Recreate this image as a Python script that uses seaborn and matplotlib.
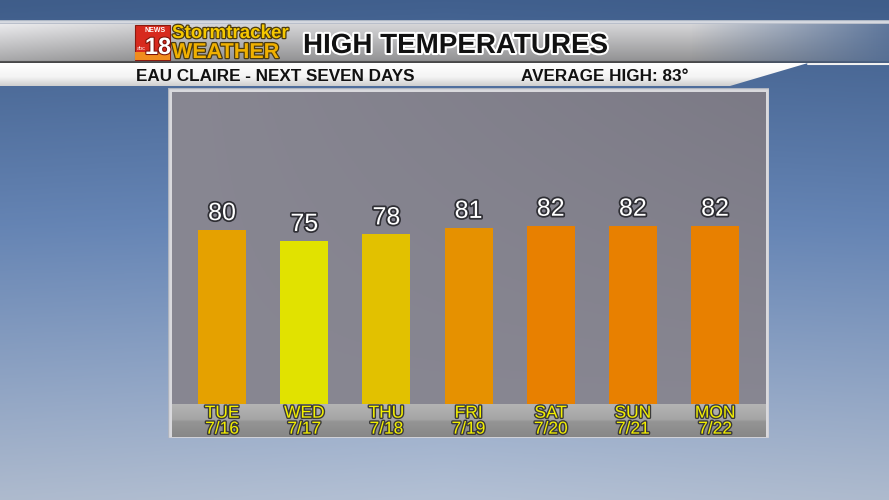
import numpy as np
import matplotlib.pyplot as plt
import matplotlib.patheffects as pe
from matplotlib.colors import LinearSegmentedColormap, to_rgb
from matplotlib.patches import Polygon, Rectangle
import seaborn as sns

# chart data
days = ["TUE", "WED", "THU", "FRI", "SAT", "SUN", "MON"]
dates = ["7/16", "7/17", "7/18", "7/19", "7/20", "7/21", "7/22"]
highs = [80, 75, 78, 81, 82, 82, 82]
bar_colors = ["#e5a100", "#e1e200", "#e2c100", "#e69100", "#e88000", "#e88000", "#e88000"]

title = "HIGH TEMPERATURES"
subtitle = "EAU CLAIRE - NEXT SEVEN DAYS"
avg_text = "AVERAGE HIGH: 83°"

W, H = 889, 500
sns.set_theme(style="white")
plt.rcParams["font.family"] = ["Liberation Sans", "DejaVu Sans"]
narrow = ["Liberation Sans Narrow", "Liberation Sans"]

fig = plt.figure(figsize=(W / 100, H / 100), dpi=100)


def px_axes(x0, y0, x1, y1, z):
    # axes placed with pixel coords measured from the top-left corner
    ax = fig.add_axes([x0 / W, 1 - y1 / H, (x1 - x0) / W, (y1 - y0) / H], zorder=z)
    ax.set_axis_off()
    return ax


def vgrad(ax, stops, **kw):
    cmap = LinearSegmentedColormap.from_list("g", stops)
    return ax.imshow(np.linspace(0, 1, 256)[:, None], cmap=cmap, aspect="auto",
                     extent=[0, 1, 0, 1], **kw)


# sky background
bg = px_axes(0, 0, W, H, -10)
sky = LinearSegmentedColormap.from_list("sky", [(0, "#41608e"), (0.45, "#6888b9"),
                                                (0.8, "#98accb"), (1, "#b3c0d4")])
yy, xx = np.mgrid[0:1:200j, 0:1:300j]
img = sky(yy)[..., :3] * (1 - 0.06 * np.abs(xx - 0.5))[..., None]
bg.imshow(img, aspect="auto", extent=[0, 1, 0, 1])

# thin light rule above header
rule = px_axes(0, 20, W, 24, -5)
vgrad(rule, [(0, "#9aa6b8"), (0.5, "#e6e8ec"), (1, "#aab2c0")])

# metallic header bar, fading out on the right
hdr = px_axes(0, 24, W, 63, -4)
gy, gx = np.mgrid[0:1:100j, 0:1:400j]
gray = 0.84 - 0.28 * gy + 0.08 * np.clip(1 - gx / 0.15, 0, 1)
gray[gy > 0.95] = 0.28
alpha = np.clip(1 - (gx - 0.78) / 0.22 * 0.8, 0.2, 1)
hdr_img = np.dstack([gray, gray, gray * 1.01, alpha]).clip(0, 1)
hdr.imshow(hdr_img, aspect="auto", extent=[0, 1, 0, 1])

# white sub-header banner with slanted end
sub = px_axes(0, 63, W, 86, -3)
sub.set_xlim(0, 1)
sub.set_ylim(0, 1)
im = vgrad(sub, [(0, "#ffffff"), (0.6, "#f4f4f4"), (1, "#cfcfcf")])
banner = Polygon([(0, 1), (808 / W, 1), (730 / W, 0), (0, 0)], closed=True,
                 transform=sub.transAxes, facecolor="none", edgecolor="none")
sub.add_patch(banner)
im.set_clip_path(banner)
sub.plot([808 / W, 1], [0.97, 0.97], color="#f0f0f0", lw=1.5, transform=sub.transAxes)

# panel frame
frame = px_axes(168, 88, 769, 438, 1)
frame.add_patch(Rectangle((0, 0), 1, 1, transform=frame.transAxes,
                          facecolor="#d9d9dd", edgecolor="#aeb4bf", lw=1))

# plot area background
pbg = px_axes(172, 92, 766, 404, 2)
py, pxx = np.mgrid[0:1:150j, 0:1:300j]
light = np.array(to_rgb("#8b8a95"))
dark = np.array(to_rgb("#75737f"))
t = np.clip(0.55 * pxx * (1 - py) + 0.35 * (1 - py) * 0.4 + 0.15 * py, 0, 1)
pbg.imshow(light * (1 - t[..., None]) + dark * t[..., None], aspect="auto", extent=[0, 1, 0, 1])

# label strip
strip = px_axes(172, 404, 766, 437, 2)
vgrad(strip, [(0, "#b4b4b4"), (0.48, "#a4a4a4"), (0.52, "#959595"), (1, "#878787")])

# bars
ax = fig.add_axes([172 / W, 1 - 404 / H, (766 - 172) / W, (404 - 92) / H], zorder=5)
ax.patch.set_alpha(0)
labels = [f"{d}\n{dt}" for d, dt in zip(days, dates)]
sns.barplot(x=labels, y=highs, hue=labels, palette=bar_colors, legend=False,
            saturation=1, width=0.584, linewidth=0, ax=ax)
ax.set_xlim(-0.61, 6.62)
ax.set_ylim(0, 143.4)
ax.set_yticks([])
ax.set_xlabel("")
ax.set_ylabel("")
sns.despine(ax=ax, left=True, bottom=True)

for c in ax.containers:
    ax.bar_label(c, padding=3.5, fontsize=18, color="white", family=narrow,
                 path_effects=[pe.withStroke(linewidth=2.5, foreground="#2e2e34")])

ax.tick_params(axis="x", length=0, pad=1.2, labelsize=12.5, labelcolor="#f4f000")
for tl in ax.get_xticklabels():
    tl.set_family(narrow)
    tl.set_linespacing(1.08)
    tl.set_path_effects([pe.withStroke(linewidth=2, foreground="#3a3a3a")])

# titles
fig.text(303 / W, 1 - 53 / H, title, fontsize=20, fontweight="bold", color="#111111",
         va="baseline", zorder=10,
         path_effects=[pe.withStroke(linewidth=3, foreground="white")])
fig.text(136 / W, 1 - 81 / H, subtitle, fontsize=12.3, fontweight="bold",
         color="#111111", va="baseline", zorder=10)
fig.text(521 / W, 1 - 81 / H, avg_text, fontsize=12.3, fontweight="bold",
         color="#111111", va="baseline", zorder=10)

# station logo
logo = px_axes(134, 24, 300, 62, 8)
logo.set_xlim(134, 300)
logo.set_ylim(62, 24)
logo.add_patch(Rectangle((135, 25), 35, 35, facecolor="#d72a1e", edgecolor="#8a1a10", lw=0.8))
logo.add_patch(Rectangle((135, 52), 35, 8, facecolor="#f08c1e", edgecolor="none"))
logo.text(155, 26.5, "NEWS", fontsize=5, fontweight="bold", color="white", ha="center", va="top")
logo.text(158, 54, "18", fontsize=17, fontweight="bold", color="white", ha="center",
          va="baseline", path_effects=[pe.withStroke(linewidth=1.5, foreground="#7a1208")])
logo.text(136.5, 50, "abc", fontsize=4, color="white", ha="left", va="baseline")
ol = [pe.withStroke(linewidth=1.8, foreground="#4a3a10")]
logo.text(172, 38, "Stormtracker", fontsize=13.5, fontweight="bold", color="#f6c800",
          va="baseline", path_effects=ol)
logo.text(172, 58, "WEATHER", fontsize=15.5, fontweight="bold", color="#f0b000",
          va="baseline", path_effects=ol)

fig.savefig("out.png", dpi=100)
